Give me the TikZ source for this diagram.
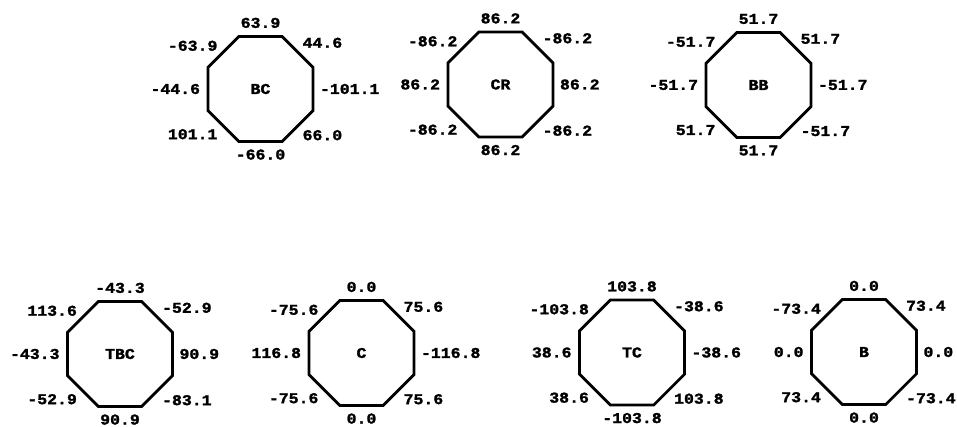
\documentclass[tikz,border=0pt]{standalone}
\usepackage{fontspec}
\newfontfamily\labfont[FakeStretch=1.1,FakeBold=1.6]{Liberation Mono Bold}
\usetikzlibrary{shapes.geometric}
\tikzset{
  oct/.style={draw, regular polygon, regular polygon sides=8, minimum size=113.6pt,
    inner sep=0pt, outer sep=0pt, line width=2.8pt,
    font=\labfont\fontsize{15}{15}\selectfont},
  lab/.style={inner sep=0pt, outer sep=0pt, font=\labfont\fontsize{15}{15}\selectfont},
}
% name, N, NE, E, SE, S, SW, W, NW
\newcommand\octlabels[9]{%
  \node[lab,anchor=south]      (#1-n)  at ([yshift=8.5pt]#1.north) {#2};
  \node[lab,anchor=south west] (#1-ne) at ([shift={(5pt,4pt)}]#1.45) {#3};
  \node[lab,anchor=west]       (#1-e)  at ([xshift=7pt]#1.east) {#4};
  \node[lab,anchor=north west] (#1-se) at ([shift={(5pt,-4pt)}]#1.-45) {#5};
  \node[lab,anchor=north]      (#1-s)  at ([yshift=-8pt]#1.south) {#6};
  \node[lab,anchor=north east] (#1-sw) at ([shift={(-6pt,-3pt)}]#1.-135) {#7};
  \node[lab,anchor=east]       (#1-w)  at ([xshift=-8pt]#1.west) {#8};
  \node[lab,anchor=south east] (#1-nw) at ([shift={(-6pt,1pt)}]#1.135) {#9};
}
\begin{document}
\begin{tikzpicture}[x=1pt,y=-1pt]
\useasboundingbox (0,0) rectangle (957,426);
\clip (0,0) rectangle (957,426);
\fill[white] (0,0) rectangle (957,426);

\node[oct] (BC)  at (260.5,89)  {BC};
\node[oct] (CR)  at (500.5,84.5){CR};
\node[oct] (BB)  at (758.5,85)  {BB};
\node[oct] (TBC) at (120,354)   {TBC};
\node[oct] (C)   at (361.5,353) {C};
\node[oct] (TC)  at (632,352.5) {TC};
\node[oct] (B)   at (864,352)   {B};

\octlabels{BC}{63.9}{44.6}{-101.1}{66.0}{-66.0}{101.1}{-44.6}{-63.9}
\octlabels{CR}{86.2}{-86.2}{86.2}{-86.2}{86.2}{-86.2}{86.2}{-86.2}
\octlabels{BB}{51.7}{51.7}{-51.7}{-51.7}{51.7}{51.7}{-51.7}{-51.7}
\octlabels{TBC}{-43.3}{-52.9}{90.9}{-83.1}{90.9}{-52.9}{-43.3}{113.6}
\octlabels{C}{0.0}{75.6}{-116.8}{75.6}{0.0}{-75.6}{116.8}{-75.6}
\octlabels{TC}{103.8}{-38.6}{-38.6}{103.8}{-103.8}{38.6}{38.6}{-103.8}
\octlabels{B}{0.0}{73.4}{0.0}{-73.4}{0.0}{73.4}{0.0}{-73.4}
\end{tikzpicture}
\end{document}
